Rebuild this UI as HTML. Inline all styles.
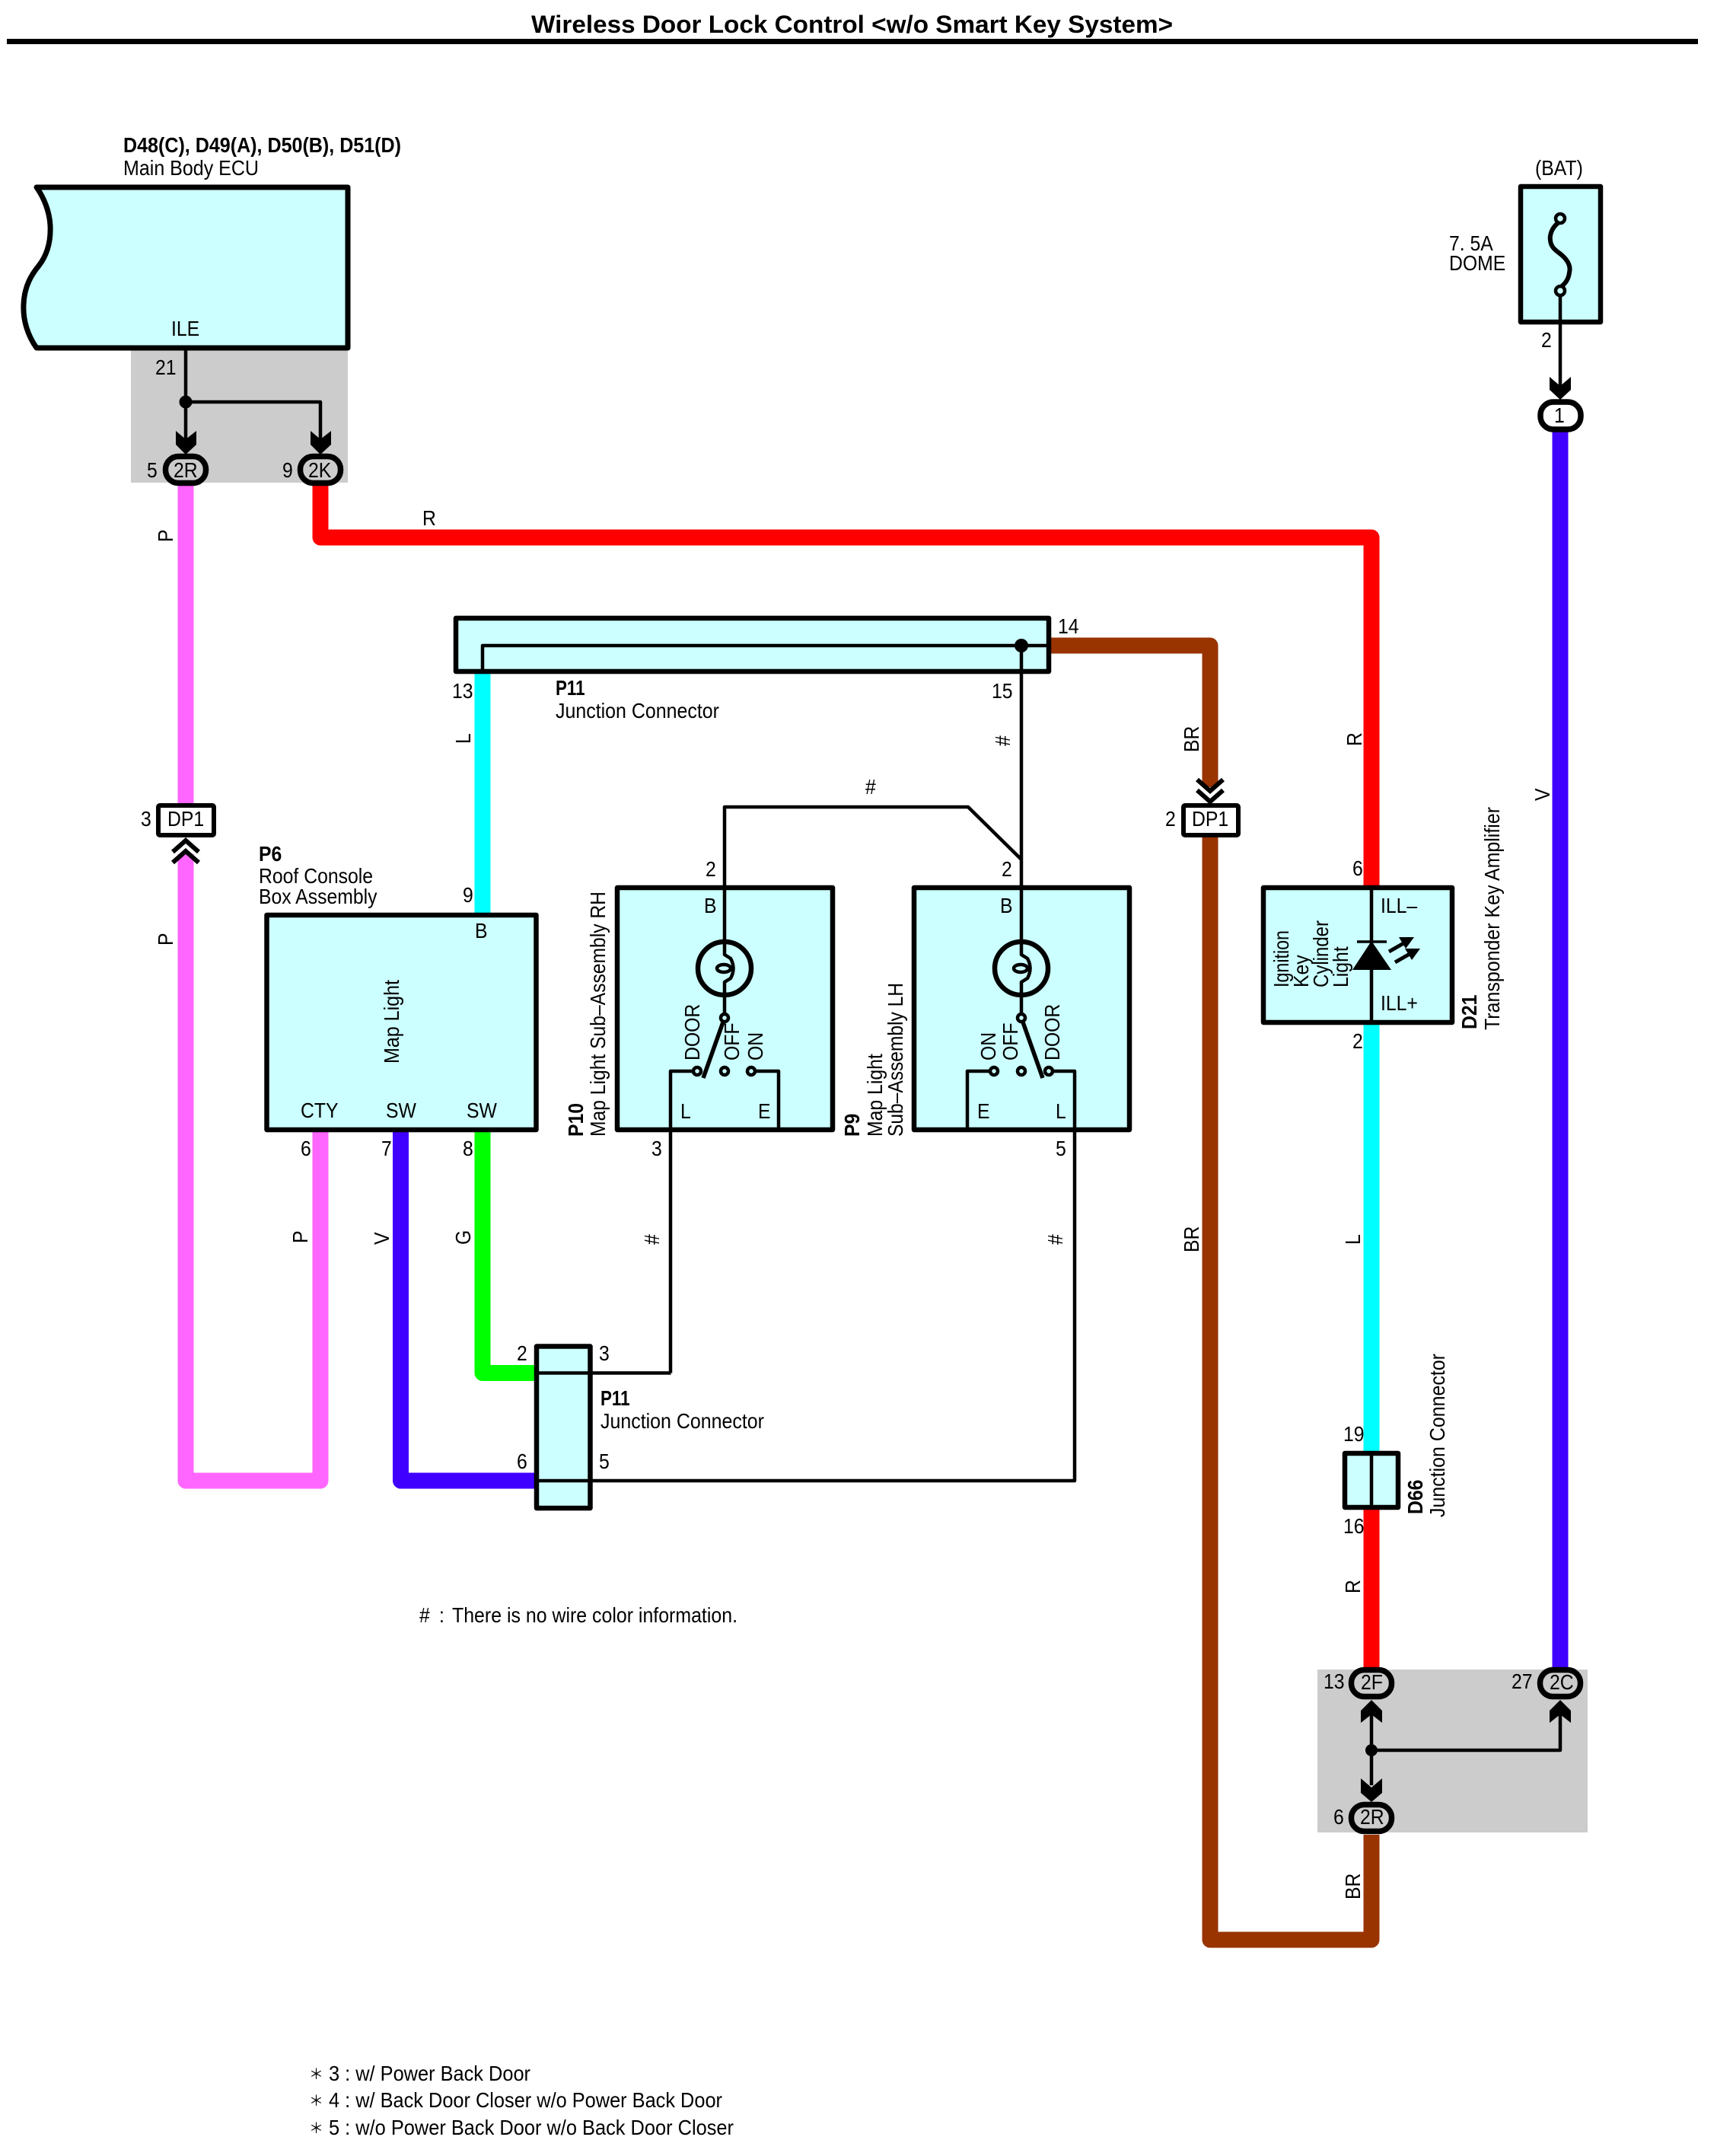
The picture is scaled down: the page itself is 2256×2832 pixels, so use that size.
<!DOCTYPE html>
<html><head><meta charset="utf-8"><title>Wireless Door Lock Control</title>
<style>
html,body{margin:0;padding:0;background:#fff}
svg{display:block}
text{font-family:"Liberation Sans",sans-serif;font-size:28px;fill:#000}
.b{font-weight:bold}
.box{fill:#ccffff;stroke:#000;stroke-width:6.500;stroke-linejoin:round}
.w{fill:none;stroke-width:21;stroke-linejoin:round}
.t{fill:none;stroke:#000;stroke-width:4.500;stroke-linejoin:round}
.conn{stroke:#000;stroke-width:7.500}
.c{fill:#ccffff;stroke:#000;stroke-width:4.500}
.star{font-size:19px;font-family:"Liberation Sans","Noto Sans CJK JP",sans-serif}
</style></head><body>
<svg width="2256" height="2832" viewBox="0 0 2256 2832" xmlns="http://www.w3.org/2000/svg">
<rect width="2256" height="2832" fill="#fff"/>

<!-- title -->
<text class="b" x="698" y="43" style="font-size:32px" textLength="843" lengthAdjust="spacingAndGlyphs">Wireless Door Lock Control &lt;w/o Smart Key System&gt;</text>
<rect x="9" y="51" width="2222" height="7" fill="#000"/>

<!-- gray zones -->
<rect x="172" y="457" width="285" height="177" fill="#ccc"/>
<rect x="1731" y="2193" width="355" height="214" fill="#ccc"/>

<!-- thick wires -->
<path class="w" stroke="#ff66ff" d="M244 637V1058M244 1122V1945H421V1487"/>
<path class="w" stroke="#ff0000" d="M421 637V706H1802V1166"/>
<path class="w" stroke="#ff0000" d="M1802 1980V2190"/>
<path class="w" stroke="#00ffff" d="M1802 1343V1909"/>
<path class="w" stroke="#00ffff" d="M634 882V1202"/>
<path class="w" stroke="#993300" d="M1377 848H1590V1034"/>
<path class="w" stroke="#993300" d="M1590 1097V2548H1802V2410"/>
<path class="w" stroke="#4000ff" d="M2050 567V2190"/>
<path class="w" stroke="#4000ff" d="M526.500 1487V1945H702"/>
<path class="w" stroke="#00ff00" d="M634 1487V1803.500H702"/>

<!-- ECU -->
<path class="box" style="stroke-width:7" d="M48 246H457V457H48C36 440 30 420 31 400C32 375 42 360 51 349C62 335 67 318 66 296C65 278 58 260 48 246Z"/>
<text transform="translate(162 200)" class="b" textLength="365" lengthAdjust="spacingAndGlyphs">D48(C), D49(A), D50(B), D51(D)</text>
<text x="162" y="230" textLength="178" lengthAdjust="spacingAndGlyphs">Main Body ECU</text>
<text transform="translate(225 441) scale(.885 1)">ILE</text>
<text transform="translate(204 492) scale(.885 1)">21</text>

<path class="t" d="M244 457V590M244 528H421V590"/>
<circle cx="244" cy="528" r="8.500" fill="#000"/>
<path d="M231 566L244 577L258 566V584L244 597L231 584Z" fill="#000"/>
<path d="M408 566L421 577L435 566V584L421 597L408 584Z" fill="#000"/>
<rect class="conn" x="217.500" y="599.500" width="53" height="35" rx="17" fill="#ccc"/>
<rect class="conn" x="394.500" y="599.500" width="53" height="35" rx="17" fill="#ccc"/>
<text transform="translate(228 627) scale(.885 1)">2R</text>
<text transform="translate(405 627) scale(.885 1)">2K</text>
<text transform="translate(193 627) scale(.885 1)">5</text>
<text transform="translate(371 627) scale(.885 1)">9</text>
<text transform="translate(555 690) scale(.885 1)">R</text>
<text transform="translate(227 712) rotate(-90) scale(.885 1)">P</text>

<!-- P11 bar -->
<rect class="box" x="599" y="812" width="779" height="70"/>
<path class="t" d="M634 882V848H1377M1342 848V1237M1342 1129L1272 1060H952V1166"/>
<circle cx="1342" cy="848" r="9" fill="#000"/>
<text transform="translate(1390 832) scale(.885 1)">14</text>
<text transform="translate(594 917) scale(.885 1)">13</text>
<text transform="translate(1303 917) scale(.885 1)">15</text>
<text class="b" transform="translate(730 913) scale(.8 1)">P11</text>
<text x="730" y="943" textLength="215" lengthAdjust="spacingAndGlyphs">Junction Connector</text>
<text transform="translate(618 977) rotate(-90) scale(.885 1)">L</text>
<text transform="translate(1327 980) rotate(-90) scale(.885 1)">#</text>
<text transform="translate(1575 988) rotate(-90) scale(.885 1)">BR</text>
<text transform="translate(1137 1043) scale(.885 1)">#</text>
<text transform="translate(1789 980) rotate(-90) scale(.885 1)">R</text>
<text transform="translate(2036 1052) rotate(-90) scale(.885 1)">V</text>

<!-- DP1 left -->
<rect x="208" y="1058" width="73" height="39" rx="2" fill="#fff" stroke="#000" stroke-width="6"/>
<text transform="translate(220 1085) scale(.885 1)">DP1</text>
<text transform="translate(185 1085) scale(.885 1)">3</text>
<path d="M227 1119L244 1104L261 1119M227 1133L244 1118L261 1133" fill="none" stroke="#000" stroke-width="6"/>
<text transform="translate(227 1242) rotate(-90) scale(.885 1)">P</text>

<!-- DP1 right -->
<rect x="1555" y="1058" width="72" height="39" rx="2" fill="#fff" stroke="#000" stroke-width="6"/>
<text transform="translate(1566 1085) scale(.885 1)">DP1</text>
<text transform="translate(1531 1085) scale(.885 1)">2</text>
<path d="M1573 1024L1590 1039L1607 1024M1573 1038L1590 1053L1607 1038" fill="none" stroke="#000" stroke-width="6"/>

<!-- P6 -->
<rect class="box" x="350.500" y="1202" width="354" height="282"/>
<text class="b" transform="translate(340 1131) scale(.885 1)">P6</text>
<text transform="translate(340 1160) scale(.885 1)">Roof Console</text>
<text transform="translate(340 1187) scale(.885 1)">Box Assembly</text>
<text transform="translate(608 1185) scale(.885 1)">9</text>
<text transform="translate(624 1232) scale(.885 1)">B</text>
<text transform="translate(524 1397) rotate(-90)" textLength="110" lengthAdjust="spacingAndGlyphs">Map Light</text>
<text transform="translate(395 1468) scale(.885 1)">CTY</text>
<text transform="translate(507 1468) scale(.885 1)">SW</text>
<text transform="translate(613 1468) scale(.885 1)">SW</text>
<text transform="translate(395 1518) scale(.885 1)">6</text>
<text transform="translate(501 1518) scale(.885 1)">7</text>
<text transform="translate(608 1518) scale(.885 1)">8</text>
<text transform="translate(404 1633) rotate(-90) scale(.885 1)">P</text>
<text transform="translate(511 1635) rotate(-90) scale(.885 1)">V</text>
<text transform="translate(618 1635) rotate(-90) scale(.885 1)">G</text>

<!-- P10 -->
<rect class="box" x="811" y="1166" width="283" height="318"/>
<path class="t" d="M952 1166V1254L960 1259Q967 1272 960 1285L952 1290V1337"/>
<circle cx="952" cy="1272" r="35" fill="none" stroke="#000" stroke-width="6.500"/>
<ellipse cx="951" cy="1272" rx="9" ry="5" fill="#ccffff" stroke="#000" stroke-width="4.500"/>
<path class="t" style="stroke-width:5.500" d="M952 1337L924 1416"/>
<path class="t" d="M881 1803.500V1407H912M992 1407H1023V1484"/>
<circle class="c" cx="952" cy="1337" r="5"/>
<circle class="c" cx="916" cy="1407" r="5"/>
<circle class="c" cx="952" cy="1407" r="5"/>
<circle class="c" cx="987" cy="1407" r="5"/>
<text transform="translate(927 1151) scale(.885 1)">2</text>
<text transform="translate(925 1199) scale(.885 1)">B</text>
<text transform="translate(894 1469) scale(.885 1)">L</text>
<text transform="translate(996 1469) scale(.885 1)">E</text>
<text transform="translate(856 1518) scale(.885 1)">3</text>
<text transform="translate(919 1393) rotate(-90) scale(.885 1)">DOOR</text>
<text transform="translate(971 1393) rotate(-90) scale(.885 1)">OFF</text>
<text transform="translate(1002 1393) rotate(-90) scale(.885 1)">ON</text>
<text class="b" transform="translate(766 1493) rotate(-90) scale(.885 1)">P10</text>
<text transform="translate(795 1493) rotate(-90)" textLength="322" lengthAdjust="spacingAndGlyphs">Map Light Sub–Assembly RH</text>

<!-- P9 -->
<rect class="box" x="1201" y="1166" width="283" height="318"/>
<path class="t" d="M1342 1166V1254L1350 1259Q1357 1272 1350 1285L1342 1290V1337"/>
<circle cx="1342" cy="1272" r="35" fill="none" stroke="#000" stroke-width="6.500"/>
<ellipse cx="1341" cy="1272" rx="9" ry="5" fill="#ccffff" stroke="#000" stroke-width="4.500"/>
<path class="t" style="stroke-width:5.500" d="M1342 1337L1370 1416"/>
<path class="t" d="M1271 1484V1407H1302M1382 1407H1412V1945H705"/>
<circle class="c" cx="1342" cy="1337" r="5"/>
<circle class="c" cx="1306" cy="1407" r="5"/>
<circle class="c" cx="1342" cy="1407" r="5"/>
<circle class="c" cx="1378" cy="1407" r="5"/>
<text transform="translate(1316 1151) scale(.885 1)">2</text>
<text transform="translate(1314 1199) scale(.885 1)">B</text>
<text transform="translate(1284 1469) scale(.885 1)">E</text>
<text transform="translate(1387 1469) scale(.885 1)">L</text>
<text transform="translate(1387 1518) scale(.885 1)">5</text>
<text transform="translate(1308 1393) rotate(-90) scale(.885 1)">ON</text>
<text transform="translate(1337 1393) rotate(-90) scale(.885 1)">OFF</text>
<text transform="translate(1392 1393) rotate(-90) scale(.885 1)">DOOR</text>
<text class="b" transform="translate(1129 1493) rotate(-90) scale(.885 1)">P9</text>
<text transform="translate(1159 1493) rotate(-90) scale(.885 1)">Map Light</text>
<text transform="translate(1186 1493) rotate(-90)" textLength="202" lengthAdjust="spacingAndGlyphs">Sub–Assembly LH</text>

<text transform="translate(866 1635) rotate(-90) scale(.885 1)">#</text>
<text transform="translate(1396 1635) rotate(-90) scale(.885 1)">#</text>
<text transform="translate(1575 1645) rotate(-90) scale(.885 1)">BR</text>
<text transform="translate(1787 1635) rotate(-90) scale(.885 1)">L</text>

<!-- small P11 -->
<rect class="box" x="705" y="1768.500" width="70.500" height="212.500"/>
<path class="t" d="M705 1803.500H881.500M705 1945H776"/>
<text transform="translate(679 1787) scale(.885 1)">2</text>
<text transform="translate(787 1787) scale(.885 1)">3</text>
<text transform="translate(679 1929) scale(.885 1)">6</text>
<text transform="translate(787 1929) scale(.885 1)">5</text>
<text class="b" transform="translate(789 1846) scale(.8 1)">P11</text>
<text x="789" y="1876" textLength="215" lengthAdjust="spacingAndGlyphs">Junction Connector</text>

<text transform="translate(551 2131) scale(.885 1)">#</text>
<text transform="translate(577 2131) scale(.885 1)">:</text>
<text x="594" y="2131" textLength="375" lengthAdjust="spacingAndGlyphs">There is no wire color information.</text>

<!-- D21 -->
<rect class="box" x="1660" y="1166" width="248" height="177"/>
<path class="t" d="M1802 1166V1343"/>
<path d="M1783 1237H1822" stroke="#000" stroke-width="3.500"/>
<path d="M1802 1236L1828 1274H1777Z" fill="#000"/>
<path d="M1825 1250L1846 1238M1833 1264L1854 1252" stroke="#000" stroke-width="5" fill="none"/>
<path d="M1858 1231L1838 1231L1847 1246ZM1866 1246L1846 1246L1855 1261Z" fill="#000"/>
<text transform="translate(1814 1199) scale(.885 1)">ILL–</text>
<text transform="translate(1814 1327) scale(.885 1)">ILL+</text>
<text transform="translate(1777 1150) scale(.885 1)">6</text>
<text transform="translate(1777 1377) scale(.885 1)">2</text>
<text transform="translate(1693 1297) rotate(-90)" textLength="75" lengthAdjust="spacingAndGlyphs">Ignition</text>
<text transform="translate(1719 1297) rotate(-90) scale(.885 1)">Key</text>
<text transform="translate(1745 1297) rotate(-90)" textLength="88" lengthAdjust="spacingAndGlyphs">Cylinder</text>
<text transform="translate(1771 1297) rotate(-90) scale(.885 1)">Light</text>
<text class="b" transform="translate(1940 1352) rotate(-90) scale(.885 1)">D21</text>
<text transform="translate(1970 1353) rotate(-90)" textLength="293" lengthAdjust="spacingAndGlyphs">Transponder Key Amplifier</text>

<!-- D66 -->
<rect class="box" x="1767" y="1909" width="70" height="71"/>
<path class="t" d="M1802 1909V1980"/>
<text transform="translate(1765 1893) scale(.885 1)">19</text>
<text transform="translate(1765 2014) scale(.885 1)">16</text>
<text class="b" transform="translate(1869 1989) rotate(-90) scale(.885 1)">D66</text>
<text transform="translate(1898 1993) rotate(-90)" textLength="215" lengthAdjust="spacingAndGlyphs">Junction Connector</text>
<text transform="translate(1787 2093) rotate(-90) scale(.885 1)">R</text>
<text transform="translate(1787 2495) rotate(-90) scale(.885 1)">BR</text>

<!-- fuse -->
<rect class="box" x="1998" y="245" width="105" height="178"/>
<path d="M2047 293C2038 300 2036 310 2037 316C2038 326 2046 330 2052 335C2060 342 2064 350 2062 358C2061 366 2057 372 2052 376" fill="none" stroke="#000" stroke-width="6"/>
<circle class="c" cx="2050" cy="287" r="6"/>
<path class="t" d="M2050 388V515"/>
<circle class="c" cx="2050" cy="382" r="6"/>
<path d="M2036 495L2050 507L2064 495V512L2050 525L2036 512Z" fill="#000"/>
<rect class="conn" x="2024" y="528" width="53" height="36" rx="17" fill="#fff"/>
<text transform="translate(2042 555) scale(.885 1)">1</text>
<text transform="translate(2017 230) scale(.885 1)">(BAT)</text>
<text transform="translate(1904 329) scale(.885 1)">7. 5A</text>
<text transform="translate(1904 355) scale(.885 1)">DOME</text>
<text transform="translate(2025 456) scale(.885 1)">2</text>

<!-- lower right splice -->
<path class="t" d="M1802 2240V2345M1802 2299H2050V2240"/>
<circle cx="1802" cy="2299" r="8" fill="#000"/>
<path d="M1802 2233L1816 2247V2263L1802 2252L1788 2263V2247Z" fill="#000"/>
<path d="M2050 2233L2064 2247V2263L2050 2252L2036 2263V2247Z" fill="#000"/>
<path d="M1788 2336L1802 2348L1816 2336V2355L1802 2367L1788 2355Z" fill="#000"/>
<rect class="conn" x="1775.500" y="2193.500" width="53" height="35" rx="17" fill="#ccc"/>
<rect class="conn" x="2023.500" y="2193.500" width="53" height="35" rx="17" fill="#ccc"/>
<rect class="conn" x="1775.500" y="2370.500" width="53" height="35" rx="17" fill="#ccc"/>
<text transform="translate(1788 2219) scale(.885 1)">2F</text>
<text transform="translate(2036 2219) scale(.885 1)">2C</text>
<text transform="translate(1787 2396) scale(.885 1)">2R</text>
<text transform="translate(1739 2218) scale(.885 1)">13</text>
<text transform="translate(1986 2218) scale(.885 1)">27</text>
<text transform="translate(1752 2396) scale(.885 1)">6</text>

<!-- footnotes -->
<text class="star" x="406" y="2731">＊</text>
<text class="star" x="406" y="2766">＊</text>
<text class="star" x="406" y="2802">＊</text>
<text x="432" y="2733" textLength="265" lengthAdjust="spacingAndGlyphs">3 : w/ Power Back Door</text>
<text x="432" y="2768" textLength="517" lengthAdjust="spacingAndGlyphs">4 : w/ Back Door Closer w/o Power Back Door</text>
<text x="432" y="2804" textLength="532" lengthAdjust="spacingAndGlyphs">5 : w/o Power Back Door w/o Back Door Closer</text>
</svg>
</body></html>
